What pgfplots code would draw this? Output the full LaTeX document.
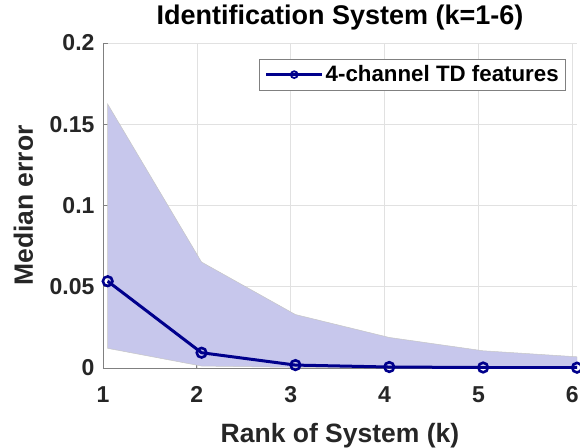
\documentclass[border=0pt]{standalone}
\usepackage{fontspec}
\setmainfont{Liberation Sans}
\usepackage{pgfplots}
\pgfplotsset{compat=1.18}
\usetikzlibrary{calc}
\definecolor{navy}{RGB}{0,0,140}
\definecolor{band}{RGB}{199,199,236}
\definecolor{tickc}{RGB}{38,38,38}
\definecolor{gridc}{RGB}{225,225,225}
\begin{document}
\begin{tikzpicture}
\begin{axis}[
  scale only axis, width=474pt, height=325pt,
  xmin=1, xmax=6.05, ymin=0, ymax=0.2,
  xtick={1,2,3,4,5,6}, xticklabels={1,2,3,4,5,6},
  ytick={0,0.05,0.1,0.15,0.2}, yticklabels={0,0.05,0.1,0.15,0.2},
  axis x line*=bottom, axis y line*=left,
  axis line style={-, draw=gray, line width=0.8pt},
  grid=major, grid style={gridc, line width=0.6pt},
  tick align=inside, major tick length=5pt,
  tick style={gray, line width=0.8pt},
  ticklabel style={font=\bfseries\fontsize{23}{23}\selectfont, text=tickc},
  xticklabel style={yshift=-15pt},
  yticklabel style={xshift=-5pt},
  title={Identification System (k=1-6)},
  title style={font=\bfseries\fontsize{27}{28}\selectfont, at={(0.5,1)}, anchor=base, yshift=12pt},
  xlabel={Rank of System (k)},
  xlabel style={font=\bfseries\fontsize{26.5}{27}\selectfont, text=tickc, at={(0.5,0)}, anchor=base, yshift=-74pt},
  ylabel={Median error},
  ylabel style={font=\bfseries\fontsize{26.5}{27}\selectfont, text=tickc, at={(rel axis cs:0,0.5)}, anchor=base, yshift=70pt},
  legend style={at={(0.977,0.951)}, anchor=north east, draw=gray, line width=0.8pt,
    font=\bfseries\fontsize{22.3}{24}\selectfont, inner xsep=5pt, inner ysep=4.5pt},
  legend cell align=left,
  legend image code/.code={\draw[mark repeat=2,mark phase=2, mark size=3.4pt, mark options={line width=1.8pt}] plot coordinates {(0pt,0pt)(28pt,0pt)(56pt,0pt)};},
]
\coordinate (O) at (rel axis cs:0,0);
\addplot[fill=band, draw=gray!45, line width=0.5pt, forget plot] coordinates {
  (1.05,0.1624)(2.05,0.0652)(3.05,0.0329)(4.05,0.0188)(5.05,0.0106)(6.05,0.0069)
  (6.05,0.0001)(5.05,0.0001)(4.05,0.0002)(3.05,0.0004)(2.05,0.0012)(1.05,0.0121)
} -- cycle;
\addplot[navy, line width=3pt, mark=o, mark size=4.8pt, mark options={line width=2.6pt}] coordinates {
  (1.05,0.0534)(2.05,0.0094)(3.05,0.0018)(4.05,0.0006)(5.05,0.0003)(6.05,0.0002)
};
\addlegendentry{4-channel TD features}
\end{axis}
\pgfresetboundingbox
\path ($(O)+(-103pt,-79pt)$) rectangle ($(O)+(477pt,368pt)$);
\end{tikzpicture}
\end{document}
